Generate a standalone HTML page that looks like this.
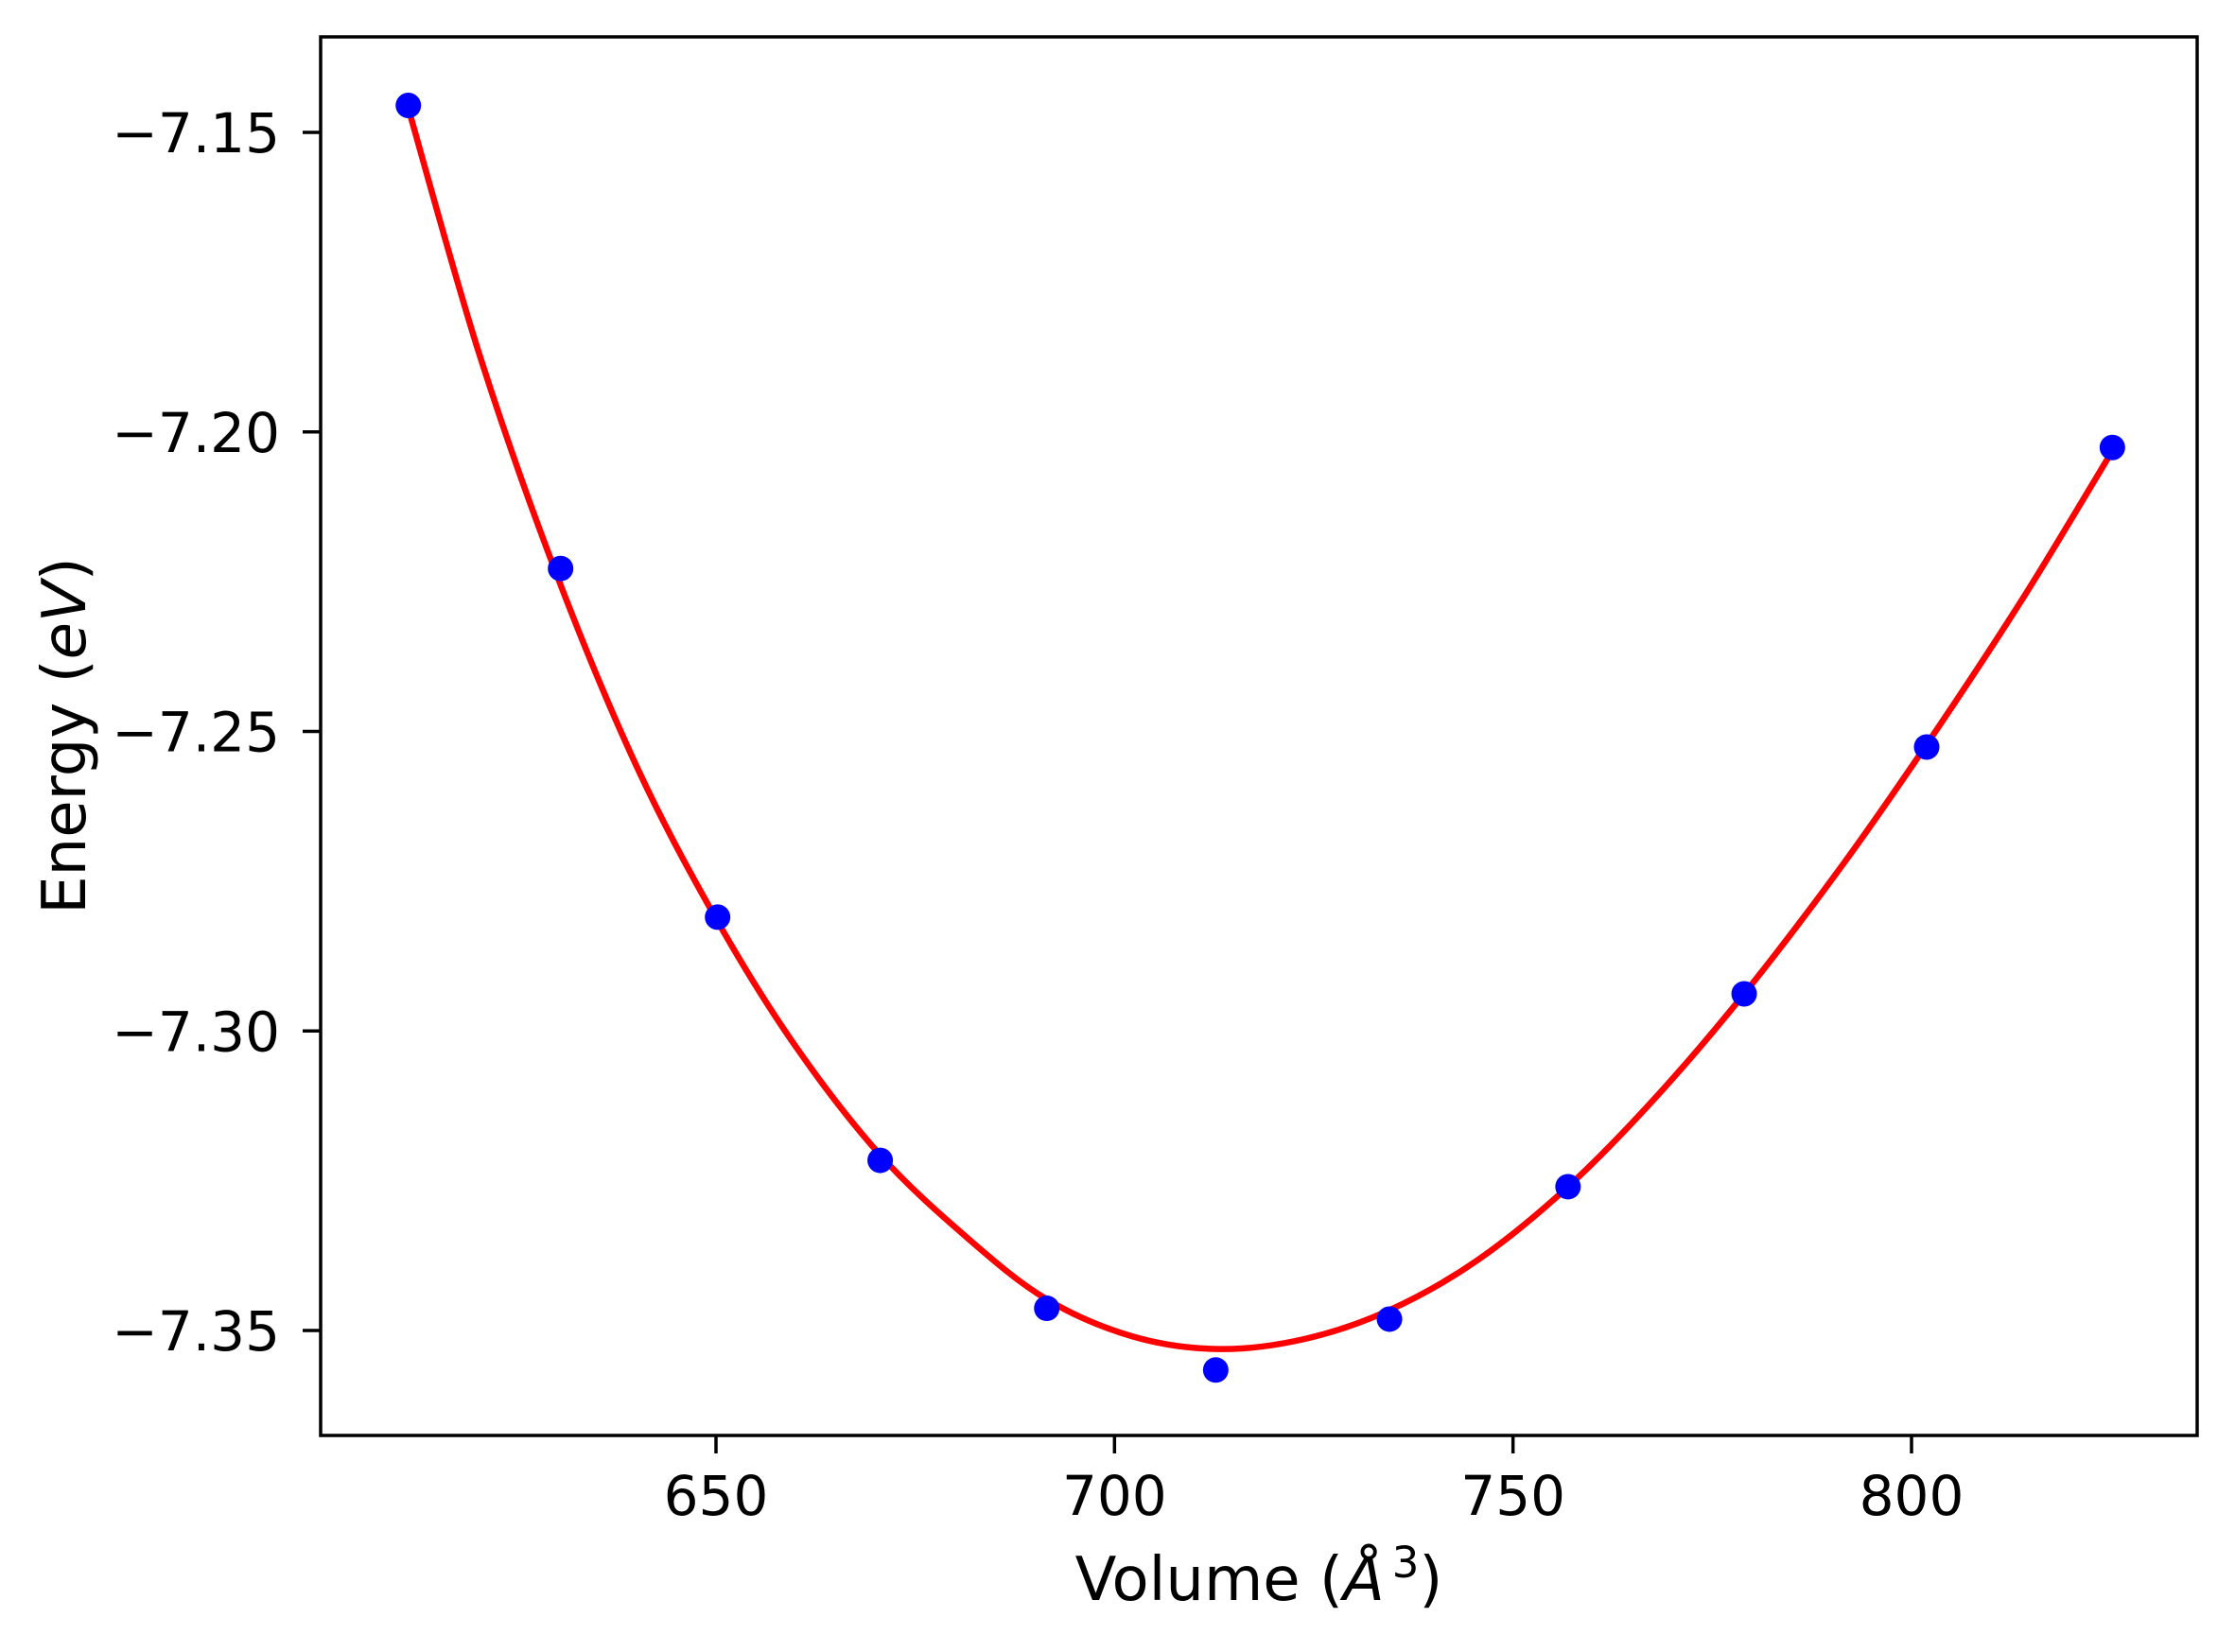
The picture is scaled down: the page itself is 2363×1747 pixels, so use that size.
<!DOCTYPE html>
<html><head><meta charset="utf-8"><style>
html,body{margin:0;padding:0;background:#fff;}
svg{display:block;font-family:"DejaVu Sans","Liberation Sans",sans-serif;}
</style></head><body>
<svg id="chart" width="2363" height="1747" viewBox="0 0 2363 1747" xmlns="http://www.w3.org/2000/svg">
<rect x="0" y="0" width="2363" height="1747" fill="#fff"/>
<g id="plot"></g>
<g id="axes"></g>
<text x="1331" y="1692" font-size="64" text-anchor="middle">Volume (<tspan font-style="italic">Å</tspan><tspan font-size="45" dx="8" dy="-24">3</tspan><tspan dy="24">)</tspan></text>
<text transform="translate(90,778) rotate(-90)" font-size="64" text-anchor="middle">Energy (<tspan font-style="italic">eV</tspan>)</text>
</svg>
<script>
const volumes = [611.4, 630.5, 650.2, 670.6, 691.5, 712.7, 734.5, 756.9, 779.0, 801.9, 825.2];
const energies = [-7.1455, -7.2228, -7.2810, -7.3216, -7.3463, -7.3566, -7.3481, -7.3260, -7.2938, -7.2526, -7.2026];
const fitVolumes = [611.4,620.3,630.0,640.1,650.2,659.9,670.6,681.5,691.5,702.3,713.1,723.9,734.5,745.5,756.9,768.1,779.3,791.5,802.5,814.1,825.0];
const fitEnergies = [-7.1460,-7.1870,-7.2238,-7.2560,-7.2817,-7.3024,-7.3207,-7.3345,-7.3448,-7.3510,-7.3531,-7.3514,-7.3466,-7.3383,-7.3260,-7.3108,-7.2933,-7.2720,-7.2510,-7.2275,-7.2036];
const xTicks = [650, 700, 750, 800];
const yTicks = [-7.15, -7.20, -7.25, -7.30, -7.35];
const yTickLabels = ["\u22127.15","\u22127.20","\u22127.25","\u22127.30","\u22127.35"];

const L=339, R=2323, T=39, B=1518;
const sx = v => 757 + (v-650)*(2021-757)/150;
const sy = e => 140 + (-7.15-e)*(1407-140)/0.2;
const NS="http://www.w3.org/2000/svg";
const plot=document.getElementById('plot'), axes=document.getElementById('axes');
function mk(tag, attrs, parent){const el=document.createElementNS(NS,tag);for(const k in attrs)el.setAttribute(k,attrs[k]);parent.appendChild(el);return el;}

const pts = fitVolumes.map((v,i)=>[sx(v), sy(fitEnergies[i])]);
let d = `M${pts[0][0]},${pts[0][1]}`;
for(let i=0;i<pts.length-1;i++){
  const p0=pts[Math.max(0,i-1)], p1=pts[i], p2=pts[i+1], p3=pts[Math.min(pts.length-1,i+2)];
  const c1=[p1[0]+(p2[0]-p0[0])/6, p1[1]+(p2[1]-p0[1])/6];
  const c2=[p2[0]-(p3[0]-p1[0])/6, p2[1]-(p3[1]-p1[1])/6];
  d+=` C${c1[0]},${c1[1]} ${c2[0]},${c2[1]} ${p2[0]},${p2[1]}`;
}
const curve = mk('path',{d:d,fill:'none',stroke:'#ff0000','stroke-width':6.5,'stroke-linecap':'round','stroke-linejoin':'round'},plot);



volumes.forEach((v,i)=>{
  const c = mk('circle',{cx:sx(v),cy:sy(energies[i]),r:13.5,fill:'#0000ff'},plot);
  
  
});

const frame = mk('rect',{x:L,y:T,width:R-L,height:B-T,fill:'none',stroke:'#000','stroke-width':3.5},axes);



xTicks.forEach(v=>{
  const x=sx(v);
  const t = mk('line',{x1:x,y1:B,x2:x,y2:B+19,stroke:'#000','stroke-width':3.5},axes);
  
  
  const lb = mk('text',{x:x,y:1602,'font-size':58,'text-anchor':'middle'},axes);
  lb.textContent=String(v);
  
  
});
yTicks.forEach((e,i)=>{
  const y=sy(e);
  const t = mk('line',{x1:L,y1:y,x2:L-19,y2:y,stroke:'#000','stroke-width':3.5},axes);
  
  
  const lb = mk('text',{x:296,y:y+21,'font-size':58,'text-anchor':'end'},axes);
  lb.textContent=yTickLabels[i];
  
  
});
</script>
</body></html>
